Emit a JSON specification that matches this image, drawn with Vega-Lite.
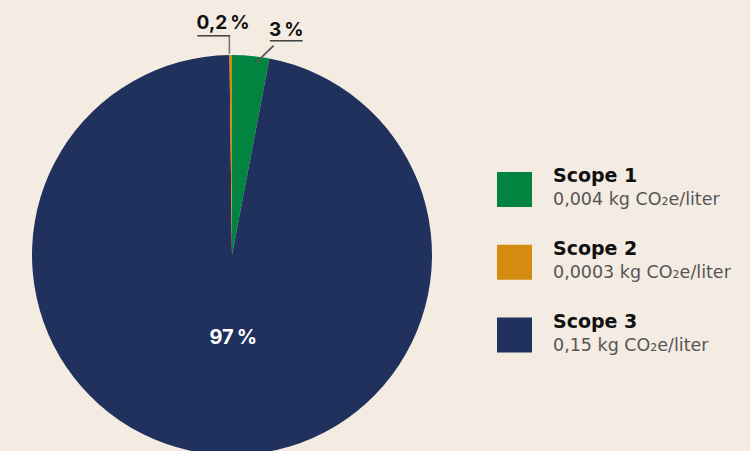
{
  "$schema": "https://vega.github.io/schema/vega-lite/v6.json",
  "background": "#f4ece3",
  "padding": 0,
  "spacing": 33,
  "config": {"view": {"stroke": null}, "font": "Inter"},
  "data": {
    "values": [
      {"scope": "Scope 1", "pct": 3, "ord": 1, "label": "3\u2009%", "detail": "0,004 kg CO\u2082e/liter"},
      {"scope": "Scope 3", "pct": 97, "ord": 2, "label": "97\u2009%", "detail": "0,15 kg CO\u2082e/liter"},
      {"scope": "Scope 2", "pct": 0.2, "ord": 3, "label": "0,2\u2009%", "detail": "0,0003 kg CO\u2082e/liter"}
    ]
  },
  "hconcat": [
    {
      "width": 464,
      "height": 510,
      "encoding": {
        "theta": {"field": "pct", "type": "quantitative", "stack": true},
        "order": {"field": "ord", "type": "quantitative"}
      },
      "layer": [
        {
          "mark": {"type": "arc", "radius": 200},
          "encoding": {
            "color": {
              "field": "scope",
              "type": "nominal",
              "scale": {"domain": ["Scope 1", "Scope 2", "Scope 3"], "range": ["#00843f", "#d38b10", "#1f315c"]},
              "legend": null
            }
          }
        },
        {
          "mark": {"type": "text", "radius": 83, "dx": 8.5, "fontSize": 20, "fontWeight": "bold", "color": "white", "align": "center", "baseline": "middle"},
          "encoding": {
            "text": {"field": "label"},
            "opacity": {"condition": {"test": "datum.scope === 'Scope 3'", "value": 1}, "value": 0}
          }
        },
        {
          "mark": {"type": "text", "radius": 226, "dx": 33, "dy": 0, "fontSize": 19, "fontWeight": "bold", "color": "#111", "align": "center", "baseline": "middle"},
          "encoding": {
            "text": {"field": "label"},
            "opacity": {"condition": {"test": "datum.scope === 'Scope 1'", "value": 1}, "value": 0}
          }
        },
        {
          "mark": {"type": "text", "radius": 232, "dx": -7.5, "dy": 0, "fontSize": 19, "fontWeight": "bold", "color": "#111", "align": "center", "baseline": "middle"},
          "encoding": {
            "text": {"field": "label"},
            "opacity": {"condition": {"test": "datum.scope === 'Scope 2'", "value": 1}, "value": 0}
          }
        },
        {
          "mark": {"type": "text", "radius": 215, "dx": 34, "dy": 1.5, "fontSize": 18, "font": "DejaVu Sans", "color": "#444", "align": "center", "baseline": "middle"},
          "encoding": {
            "text": {"value": "\u2500\u2500\u2500"},
            "opacity": {"condition": {"test": "datum.scope === 'Scope 1'", "value": 1}, "value": 0}
          }
        },
        {
          "mark": {"type": "text", "radius": 219, "dx": -17, "dy": 1, "fontSize": 18, "font": "DejaVu Sans", "color": "#444", "align": "center", "baseline": "middle"},
          "encoding": {
            "text": {"value": "\u2500\u2500\u2500"},
            "opacity": {"condition": {"test": "datum.scope === 'Scope 2'", "value": 1}, "value": 0}
          }
        },
        {
          "mark": {"type": "text", "radius": 207, "dx": 13, "dy": -4.5, "angle": 46, "fontSize": 21, "font": "DejaVu Sans", "color": "#555", "align": "center", "baseline": "middle"},
          "encoding": {
            "text": {"value": "\u2502"},
            "opacity": {"condition": {"test": "datum.scope === 'Scope 1'", "value": 1}, "value": 0}
          }
        },
        {
          "mark": {"type": "text", "radius": 211, "dx": -1.4, "dy": 1, "fontSize": 15, "font": "DejaVu Sans", "color": "#555", "align": "center", "baseline": "middle"},
          "encoding": {
            "text": {"value": "\u2502"},
            "opacity": {"condition": {"test": "datum.scope === 'Scope 2'", "value": 1}, "value": 0}
          }
        }
      ]
    },
    {
      "width": 253,
      "height": 451,
      "encoding": {
        "y": {"field": "scope", "type": "nominal", "axis": null, "scale": {"type": "point", "padding": 0, "range": [189.5, 335]}}
      },
      "layer": [
        {
          "mark": {"type": "point", "shape": "square", "size": 1225, "filled": true, "opacity": 1, "strokeWidth": 0},
          "encoding": {
            "x": {"value": 17.5},
            "color": {
              "field": "scope",
              "type": "nominal",
              "scale": {"domain": ["Scope 1", "Scope 2", "Scope 3"], "range": ["#00843f", "#d38b10", "#1f315c"]},
              "legend": null
            }
          }
        },
        {
          "mark": {"type": "text", "align": "left", "baseline": "alphabetic", "dy": -7.5, "fontSize": 19, "font": "DejaVu Sans", "fontWeight": "bold", "color": "#111"},
          "encoding": {"x": {"value": 56}, "text": {"field": "scope"}}
        },
        {
          "mark": {"type": "text", "align": "left", "baseline": "alphabetic", "dy": 15.5, "fontSize": 17.5, "font": "DejaVu Sans", "color": "#555"},
          "encoding": {"x": {"value": 56}, "text": {"field": "detail"}}
        }
      ]
    }
  ]
}
